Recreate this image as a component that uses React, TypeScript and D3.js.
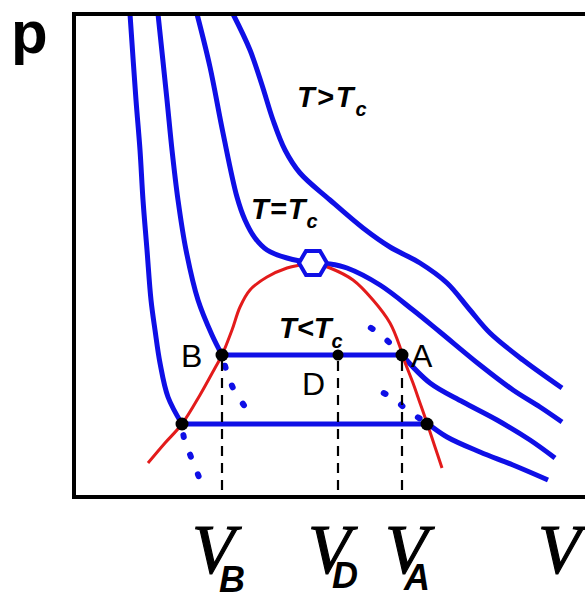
import React from 'react';
import * as d3 from 'd3';

type P = [number, number];

// Isotherms (V, p) in arbitrary units
const isoLowLeft: P[] = [[5.6, 48.3], [6.2, 39.7], [6.6, 34.7], [6.9, 29.7], [7.3, 24.7], [7.7, 19.7], [8.1, 16.7], [8.6, 13.4], [9.4, 10.0], [10.8, 7.3]];
const isoLowLeftDots: P[] = [[10.8, 7.3], [11.0, 5.9], [11.7, 4.0], [12.7, 1.5]];
const isoLowRightDots: P[] = [[29.6, 11.0], [31.9, 9.9], [33.3, 8.7], [35.3, 7.4]];
const isoLowRight: P[] = [[35.3, 7.4], [37.3, 6.0], [40.6, 4.5], [43.9, 3.2], [47.4, 1.7]];

const isoMidLeft: P[] = [[8.4, 48.3], [9.3, 39.7], [9.8, 34.7], [10.4, 29.7], [11.2, 24.7], [12.4, 19.7], [13.8, 16.2], [14.8, 14.2]];
const isoMidLeftDots: P[] = [[14.8, 14.2], [15.2, 12.8], [16.0, 10.7], [17.2, 8.9]];
const isoMidRightDots: P[] = [[28.4, 17.7], [30.3, 16.5], [31.8, 15.2], [32.8, 14.2]];
const isoMidRight: P[] = [[32.8, 14.2], [35.6, 11.4], [38.9, 9.5], [42.3, 7.7], [45.6, 5.7], [48.1, 3.9]];

const isoCrit: P[] = [[12.3, 48.3], [13.6, 43.0], [14.9, 36.4], [16.3, 30.0], [17.1, 27.7], [18.1, 25.9], [19.3, 24.7], [21.3, 23.9], [23.9, 23.4], [25.6, 23.3], [27.3, 22.9], [30.6, 21.2], [33.9, 18.7], [36.6, 16.5], [40.6, 13.2], [43.9, 10.7], [46.6, 9.0], [48.8, 7.5]];

const isoHigh: P[] = [[15.9, 48.3], [17.6, 44.7], [18.8, 41.2], [19.9, 37.7], [21.1, 34.7], [22.6, 32.4], [25.6, 29.7], [28.9, 26.9], [31.6, 25.0], [34.6, 23.4], [37.3, 21.4], [39.6, 18.7], [41.6, 16.4], [44.9, 13.7], [48.8, 10.9]];

const binodal: P[] = [[7.4, 3.4], [9.1, 5.4], [10.8, 7.3], [12.6, 10.2], [14.1, 12.9], [14.8, 14.2], [15.8, 16.7], [16.6, 19.0], [17.6, 20.7], [19.3, 22.0], [21.3, 22.9], [22.6, 23.2], [23.9, 23.4], [25.6, 22.9], [27.9, 21.7], [29.9, 19.7], [31.6, 17.4], [32.6, 15.0], [32.9, 14.0], [33.9, 11.4], [34.6, 9.4], [35.3, 7.4], [36.1, 5.0], [36.8, 2.9]];

const critPoint: P = [23.9, 23.4];
const VB = 14.8, VD = 26.4, VA = 32.8, pTie = 14.2;
const lowTie: P[] = [[10.8, 7.3], [35.3, 7.3]];
const blackDots: P[] = [[VB, pTie], [VA, pTie], [10.8, 7.3], [35.3, 7.3]];
const dPoint: P = [VD, pTie];

const BLUE = '#0f0fe6';
const RED = '#e31b1b';

export default function App() {
  const x = d3.scaleLinear().domain([0, 51]).range([74, 584]);
  const y = d3.scaleLinear().domain([0, 48.3]).range([497, 14]);
  const curve = d3.line<P>().x(d => x(d[0])).y(d => y(d[1])).curve(d3.curveCatmullRom.alpha(0.5));
  const straight = d3.line<P>().x(d => x(d[0])).y(d => y(d[1]));

  const solid = [isoLowLeft, isoLowRight, isoMidLeft, isoMidRight, isoCrit, isoHigh];
  const dotted = [isoLowLeftDots, isoLowRightDots, isoMidLeftDots, isoMidRightDots];

  const cx = x(critPoint[0]), cy = y(critPoint[1]);
  const hex = d3.range(6).map(i => {
    const a = (i * Math.PI) / 3;
    return [cx + 14 * Math.cos(a), cy + 14 * Math.sin(a)];
  });
  const hexPath = 'M' + hex.map(p => p.join(',')).join('L') + 'Z';

  const sans = 'Liberation Sans, Arial, sans-serif';
  const serif = 'Liberation Serif, Times New Roman, serif';

  return (
    <svg width={585} height={594} style={{ position: 'absolute', left: 0, top: 0, background: '#fff' }}>
      <rect width={585} height={594} fill="#fff" />
      {solid.map((d, i) => (
        <path key={'s' + i} d={curve(d) || ''} fill="none" stroke={BLUE} strokeWidth={5} strokeLinejoin="round" />
      ))}
      {dotted.map((d, i) => (
        <path key={'d' + i} d={curve(d) || ''} fill="none" stroke={BLUE} strokeWidth={6} strokeLinecap="round" strokeDasharray="2 19" strokeDashoffset={i % 2 === 0 ? 10 : 6} />
      ))}
      <path d={curve(binodal) || ''} fill="none" stroke={RED} strokeWidth={3} />
      <path d={straight([[VB, pTie], [VA, pTie]]) || ''} stroke={BLUE} strokeWidth={5} />
      <path d={straight(lowTie) || ''} stroke={BLUE} strokeWidth={5} />
      {[VB, VD, VA].map((v, i) => (
        <line key={'v' + i} x1={x(v)} x2={x(v)} y1={y(pTie)} y2={y(0)} stroke="#000" strokeWidth={2.2} strokeDasharray="10 7" strokeDashoffset={-6} />
      ))}
      {blackDots.map((d, i) => (
        <circle key={'b' + i} cx={x(d[0])} cy={y(d[1])} r={6.5} fill="#000" />
      ))}
      <circle cx={x(dPoint[0])} cy={y(dPoint[1])} r={5.5} fill="#000" />
      <path d={hexPath} fill="#fff" stroke={BLUE} strokeWidth={4} />
      <path d="M 600 14 H 74 V 497 H 600" fill="none" stroke="#000" strokeWidth={4} />

      <text x={11} y={53} fontFamily={sans} fontWeight="bold" fontSize={60}>p</text>

      <g fontFamily={sans} fontWeight="bold" fontStyle="italic" fontSize={29}>
        <text x={297} y={107} letterSpacing={2}>T&gt;T<tspan dy={9} fontSize={20}>c</tspan></text>
        <text x={251} y={219} letterSpacing={1}>T=T<tspan dy={9} fontSize={20}>c</tspan></text>
        <text x={279} y={338}>T&lt;T<tspan dy={10} fontSize={20}>c</tspan></text>
      </g>

      <g fontFamily={sans} fontSize={32} fill="#000">
        <text x={181} y={367}>B</text>
        <text x={411} y={367}>A</text>
        <text x={302} y={395}>D</text>
      </g>

      <g fontFamily={serif} fontStyle="italic" fontSize={70} stroke="#000" strokeWidth={1.2}>
        <text x={192} y={573}>V</text>
        <text x={308} y={573}>V</text>
        <text x={385} y={573}>V</text>
        <text x={538} y={573}>V</text>
      </g>
      <g fontFamily={sans} fontWeight="bold" fontStyle="italic" fontSize={36}>
        <text x={219} y={592}>B</text>
        <text x={332} y={588}>D</text>
        <text x={404} y={590}>A</text>
      </g>
    </svg>
  );
}
